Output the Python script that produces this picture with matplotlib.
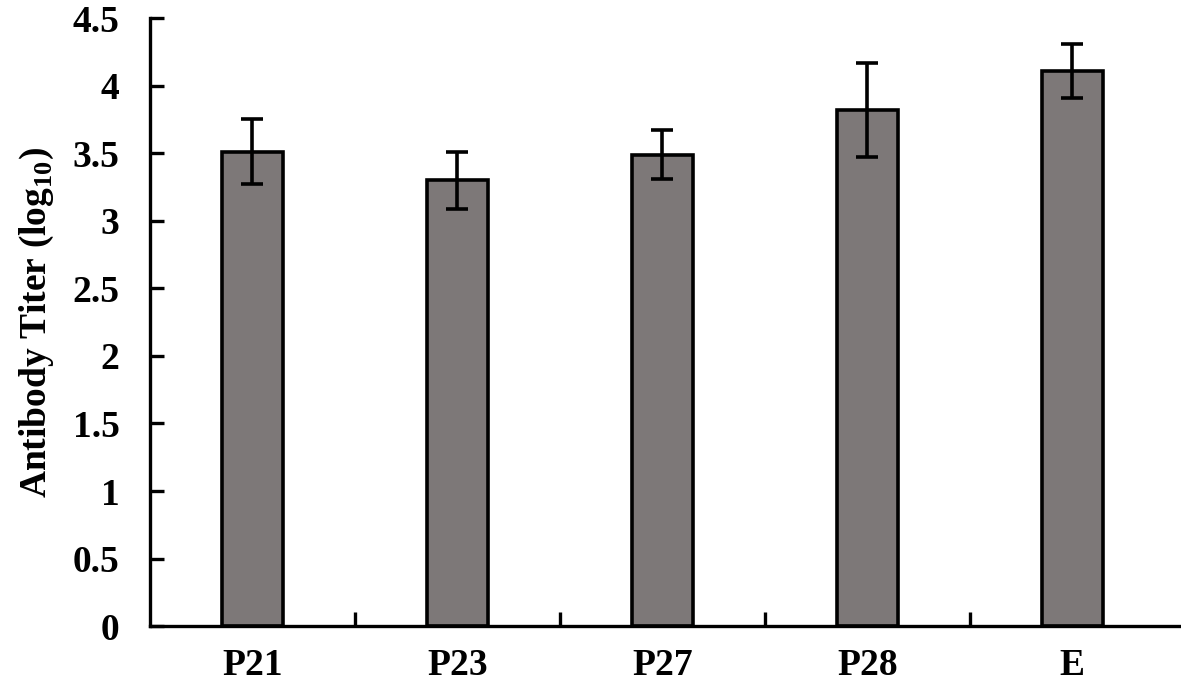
import numpy as np
import matplotlib
matplotlib.use("Agg")
import matplotlib.pyplot as plt

groups = ["P21", "P23", "P27", "P28", "E"]
titer = [3.51, 3.30, 3.49, 3.82, 4.11]
titer_sd = [0.24, 0.21, 0.18, 0.35, 0.20]
yticks = [0, 0.5, 1, 1.5, 2, 2.5, 3, 3.5, 4, 4.5]
ytick_labels = ["0", "0.5", "1", "1.5", "2", "2.5", "3", "3.5", "4", "4.5"]

plt.rcParams["font.family"] = ["Liberation Serif", "DejaVu Serif"]
plt.rcParams["font.weight"] = "bold"
plt.rcParams["mathtext.fontset"] = "custom"
plt.rcParams["mathtext.rm"] = "Liberation Serif:bold"
plt.rcParams["mathtext.bf"] = "Liberation Serif:bold"

fig = plt.figure(figsize=(11.81, 6.95), dpi=100)
ax = fig.add_axes([0.127, 0.099, 0.873, 0.875])

x = np.arange(len(groups))
ax.bar(x, titer, width=0.3, color="#7d7878", edgecolor="black", linewidth=2.6, zorder=2)
ax.errorbar(x, titer, yerr=titer_sd, fmt="none", ecolor="black",
            elinewidth=2.6, capsize=8, capthick=2.6, zorder=3)

ax.set_xlim(-0.5, len(groups) - 0.47)
ax.set_ylim(0, 4.5)
ax.set_yticks(yticks)
ax.set_yticklabels(ytick_labels, fontsize=27, fontweight="bold")
ax.set_xticks(x)
ax.set_xticklabels(groups, fontsize=27, fontweight="bold")
# minor ticks between the bars, major ones invisible
ax.set_xticks(np.arange(0.5, len(groups) - 0.5), minor=True)
ax.tick_params(axis="x", which="major", length=0, pad=16)
ax.tick_params(axis="x", which="minor", direction="in", length=10, width=2.4)
ax.tick_params(axis="y", direction="in", length=10, width=2.4, pad=22)

ax.set_ylabel("Antibody Titer (log$_{\\mathbf{10}}$)", fontsize=27, fontweight="bold", labelpad=12)

for side in ("top", "right"):
    ax.spines[side].set_visible(False)
for side in ("left", "bottom"):
    ax.spines[side].set_linewidth(2.4)

fig.savefig("out.png", dpi=100)
